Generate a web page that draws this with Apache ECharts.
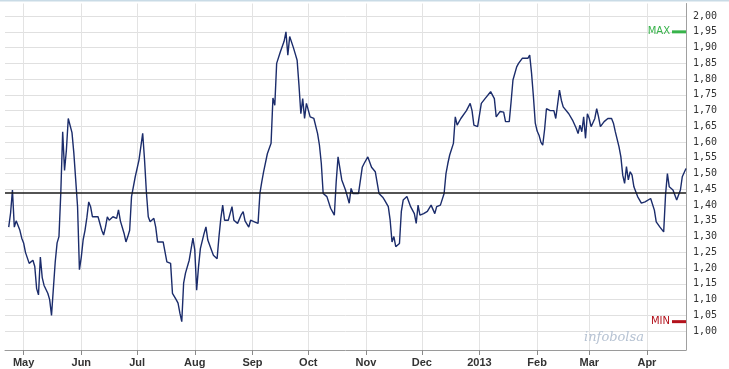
<!DOCTYPE html>
<html>
<head>
<meta charset="utf-8">
<script src="https://cdn.jsdelivr.net/npm/echarts@6/dist/echarts.min.js"></script>
<style>
html,body{margin:0;padding:0;background:#fff;}
#c{width:729px;height:369px;}
</style>
</head>
<body>
<div id="c"></div>
<script>
const dates = ['2012-04-23','2012-04-24','2012-04-25','2012-04-26','2012-04-27','2012-04-29','2012-04-30','2012-05-01','2012-05-02','2012-05-03','2012-05-04','2012-05-06','2012-05-07','2012-05-08','2012-05-09','2012-05-10','2012-05-11','2012-05-12','2012-05-14','2012-05-15','2012-05-16','2012-05-17','2012-05-18','2012-05-19','2012-05-20','2012-05-21','2012-05-22','2012-05-23','2012-05-24','2012-05-25','2012-05-27','2012-05-28','2012-05-29','2012-05-30','2012-05-31','2012-06-01','2012-06-02','2012-06-03','2012-06-04','2012-06-05','2012-06-06','2012-06-07','2012-06-08','2012-06-10','2012-06-12','2012-06-13','2012-06-14','2012-06-15','2012-06-16','2012-06-18','2012-06-20','2012-06-21','2012-06-22','2012-06-24','2012-06-25','2012-06-26','2012-06-27','2012-06-28','2012-06-30','2012-07-02','2012-07-04','2012-07-05','2012-07-06','2012-07-07','2012-07-08','2012-07-10','2012-07-11','2012-07-12','2012-07-15','2012-07-17','2012-07-18','2012-07-19','2012-07-20','2012-07-21','2012-07-22','2012-07-23','2012-07-24','2012-07-25','2012-07-26','2012-07-27','2012-07-29','2012-07-31','2012-08-01','2012-08-02','2012-08-03','2012-08-04','2012-08-06','2012-08-07','2012-08-08','2012-08-10','2012-08-11','2012-08-13','2012-08-14','2012-08-15','2012-08-16','2012-08-17','2012-08-19','2012-08-20','2012-08-21','2012-08-22','2012-08-24','2012-08-26','2012-08-27','2012-08-28','2012-08-30','2012-08-31','2012-09-02','2012-09-04','2012-09-05','2012-09-06','2012-09-07','2012-09-09','2012-09-11','2012-09-12','2012-09-13','2012-09-14','2012-09-16','2012-09-18','2012-09-19','2012-09-20','2012-09-21','2012-09-23','2012-09-24','2012-09-25','2012-09-26','2012-09-27','2012-09-28','2012-09-29','2012-09-30','2012-10-02','2012-10-04','2012-10-06','2012-10-07','2012-10-08','2012-10-09','2012-10-10','2012-10-11','2012-10-13','2012-10-15','2012-10-16','2012-10-17','2012-10-18','2012-10-19','2012-10-21','2012-10-23','2012-10-24','2012-10-25','2012-10-28','2012-10-30','2012-10-31','2012-11-02','2012-11-04','2012-11-06','2012-11-07','2012-11-08','2012-11-10','2012-11-11','2012-11-13','2012-11-14','2012-11-15','2012-11-16','2012-11-17','2012-11-19','2012-11-20','2012-11-21','2012-11-23','2012-11-25','2012-11-27','2012-11-28','2012-11-29','2012-11-30','2012-12-02','2012-12-04','2012-12-06','2012-12-08','2012-12-09','2012-12-11','2012-12-12','2012-12-13','2012-12-14','2012-12-15','2012-12-16','2012-12-18','2012-12-19','2012-12-20','2012-12-22','2012-12-25','2012-12-27','2012-12-28','2012-12-29','2012-12-31','2013-01-01','2013-01-02','2013-01-04','2013-01-07','2013-01-09','2013-01-10','2013-01-12','2013-01-14','2013-01-15','2013-01-16','2013-01-17','2013-01-18','2013-01-19','2013-01-21','2013-01-22','2013-01-23','2013-01-24','2013-01-25','2013-01-27','2013-01-28','2013-01-29','2013-01-30','2013-01-31','2013-02-01','2013-02-02','2013-02-03','2013-02-04','2013-02-05','2013-02-06','2013-02-08','2013-02-09','2013-02-10','2013-02-11','2013-02-12','2013-02-13','2013-02-14','2013-02-15','2013-02-18','2013-02-20','2013-02-22','2013-02-23','2013-02-24','2013-02-25','2013-02-26','2013-02-27','2013-02-28','2013-03-01','2013-03-02','2013-03-04','2013-03-05','2013-03-06','2013-03-07','2013-03-09','2013-03-11','2013-03-13','2013-03-14','2013-03-15','2013-03-17','2013-03-18','2013-03-19','2013-03-20','2013-03-21','2013-03-22','2013-03-23','2013-03-24','2013-03-25','2013-03-27','2013-03-29','2013-03-31','2013-04-01','2013-04-03','2013-04-05','2013-04-06','2013-04-07','2013-04-08','2013-04-09','2013-04-10','2013-04-11','2013-04-12','2013-04-13','2013-04-15','2013-04-16','2013-04-17','2013-04-19','2013-04-20','2013-04-22'];

const values = [1.33,1.375,1.448,1.33,1.35,1.32,1.295,1.28,1.25,1.25,1.215,1.225,1.205,1.135,1.115,1.235,1.17,1.145,1.12,1.10,1.05,1.045,1.22,1.28,1.30,1.44,1.633,1.51,1.575,1.675,1.63,1.565,1.48,1.395,1.195,1.235,1.29,1.32,1.36,1.41,1.395,1.363,1.368,1.363,1.32,1.305,1.33,1.363,1.352,1.363,1.358,1.385,1.35,1.31,1.283,1.30,1.32,1.427,1.49,1.543,1.628,1.543,1.44,1.363,1.347,1.358,1.33,1.283,1.283,1.22,1.215,1.215,1.12,1.114,1.10,1.089,1.057,1.03,1.152,1.184,1.225,1.295,1.257,1.13,1.204,1.262,1.31,1.331,1.289,1.257,1.241,1.23,1.30,1.358,1.40,1.352,1.352,1.347,1.395,1.352,1.342,1.37,1.379,1.35,1.33,1.352,1.347,1.342,1.437,1.474,1.506,1.563,1.596,1.74,1.717,1.85,1.887,1.92,1.95,1.876,1.935,1.90,1.88,1.86,1.78,1.69,1.738,1.675,1.723,1.68,1.675,1.627,1.59,1.532,1.437,1.443,1.427,1.39,1.368,1.474,1.553,1.553,1.48,1.448,1.406,1.453,1.437,1.437,1.52,1.532,1.553,1.52,1.506,1.50,1.437,1.425,1.416,1.395,1.352,1.283,1.30,1.268,1.278,1.379,1.416,1.427,1.395,1.373,1.342,1.40,1.368,1.373,1.38,1.40,1.373,1.395,1.40,1.406,1.437,1.50,1.532,1.559,1.596,1.68,1.654,1.675,1.70,1.723,1.70,1.654,1.649,1.65,1.723,1.738,1.76,1.738,1.68,1.697,1.695,1.665,1.67,1.665,1.728,1.797,1.839,1.85,1.845,1.866,1.86,1.866,1.876,1.818,1.744,1.66,1.635,1.622,1.60,1.59,1.64,1.706,1.70,1.706,1.70,1.675,1.67,1.765,1.733,1.712,1.69,1.67,1.644,1.627,1.654,1.633,1.68,1.612,1.69,1.675,1.649,1.675,1.706,1.68,1.649,1.665,1.675,1.675,1.66,1.633,1.585,1.553,1.495,1.469,1.522,1.48,1.506,1.495,1.458,1.427,1.406,1.41,1.416,1.421,1.384,1.347,1.342,1.33,1.326,1.315,1.432,1.50,1.458,1.448,1.432,1.416,1.448,1.49,1.516];

const monthTickDates = ['2012-05-01','2012-06-01','2012-07-01','2012-08-01','2012-09-01','2012-10-01','2012-11-01','2012-12-01','2013-01-01','2013-02-01','2013-03-01','2013-04-01'];
const monthTickLabels = ['May','Jun','Jul','Aug','Sep','Oct','Nov','Dec','2013','Feb','Mar','Apr'];
const yTickValues = [1.00,1.05,1.10,1.15,1.20,1.25,1.30,1.35,1.40,1.45,1.50,1.55,1.60,1.65,1.70,1.75,1.80,1.85,1.90,1.95,2.00];
const refLevel = 1.44;
const xRange = ['2012-04-21','2013-04-22'];
const yRange = [0.94, 2.04];

function toTs(s){ const p = s.split('-').map(Number); return new Date(p[0], p[1]-1, p[2]).getTime(); }
const tickTs = monthTickDates.map(toTs);
const seriesData = dates.map((d, i) => [toTs(d), values[i]]);

const chart = echarts.init(document.getElementById('c'), null, {renderer: 'canvas'});
const option = {
  animation: false,
  backgroundColor: '#ffffff',
  grid: {left: 5, right: 43, top: 3.5, bottom: 19, outerBoundsMode: 'none', containLabel: false},
  xAxis: {
    type: 'value',
    min: toTs(xRange[0]),
    max: toTs(xRange[1]),
    axisLine: {show: true, lineStyle: {color: '#9a9a9a', width: 1}},
    axisTick: {show: true, length: 5, customValues: tickTs, lineStyle: {color: '#8a8a8a'}},
    axisLabel: {
      customValues: tickTs,
      color: '#333',
      fontFamily: 'Liberation Sans',
      fontSize: 11,
      fontWeight: 'bold',
      margin: 7,
      formatter: function (val) {
        const i = tickTs.indexOf(val);
        return i >= 0 ? monthTickLabels[i] : '';
      }
    },
    splitLine: {show: true, lineStyle: {color: '#e3e3e3', width: 1}}
  },
  yAxis: {
    type: 'value',
    position: 'right',
    min: yRange[0],
    max: yRange[1],
    axisLine: {show: true, lineStyle: {color: '#a0a0a0', width: 1}},
    axisTick: {show: false, customValues: yTickValues},
    axisLabel: {
      customValues: yTickValues,
      color: '#333',
      fontFamily: 'DejaVu Sans Mono',
      fontSize: 10,
      margin: 7,
      formatter: function (v) { return v.toFixed(2).replace('.', ','); }
    },
    splitLine: {show: true, lineStyle: {color: '#e0e0e0', width: 1}}
  },
  series: [{
    type: 'line',
    data: seriesData,
    showSymbol: false,
    symbol: 'none',
    lineStyle: {color: '#1b2c6b', width: 1.4},
    markLine: {
      silent: true,
      symbol: 'none',
      label: {show: false},
      lineStyle: {color: '#1a1a1a', width: 1.5, type: 'solid'},
      data: [{yAxis: refLevel}]
    }
  }]
};
chart.setOption(option);

const maxVal = Math.max.apply(null, values);
const minVal = Math.min.apply(null, values);
const gridRect = chart.getModel().getComponent('grid', 0).coordinateSystem.getRect();
const xr = gridRect.x + gridRect.width;
const yMax = chart.convertToPixel({yAxisIndex: 0}, maxVal);
const yMin = chart.convertToPixel({yAxisIndex: 0}, minVal);
chart.setOption({
  graphic: [
    {type: 'line', shape: {x1: 0, y1: 0.5, x2: 729, y2: 0.5}, style: {stroke: '#c9dbe6', lineWidth: 2}, z: 100},
    {type: 'line', shape: {x1: xr - 14, y1: yMax, x2: xr, y2: yMax}, style: {stroke: '#37b34a', lineWidth: 3}, z: 100},
    {type: 'text', x: xr - 16, y: yMax, style: {text: 'MAX', fill: '#37b34a', font: '10px "DejaVu Sans"', align: 'right', verticalAlign: 'middle'}, z: 100},
    {type: 'line', shape: {x1: xr - 14, y1: yMin, x2: xr, y2: yMin}, style: {stroke: '#b3121c', lineWidth: 3}, z: 100},
    {type: 'text', x: xr - 16, y: yMin, style: {text: 'MIN', fill: '#b3121c', font: '10px "DejaVu Sans"', align: 'right', verticalAlign: 'middle'}, z: 100},
    {type: 'text', x: gridRect.x + gridRect.width - 72, y: gridRect.y + gridRect.height - 12, style: {text: 'infobolsa', fill: '#b7c3d3', font: 'italic 13px "DejaVu Serif"', align: 'center', verticalAlign: 'middle'}, z: 50}
  ]
});
</script>
</body>
</html>
